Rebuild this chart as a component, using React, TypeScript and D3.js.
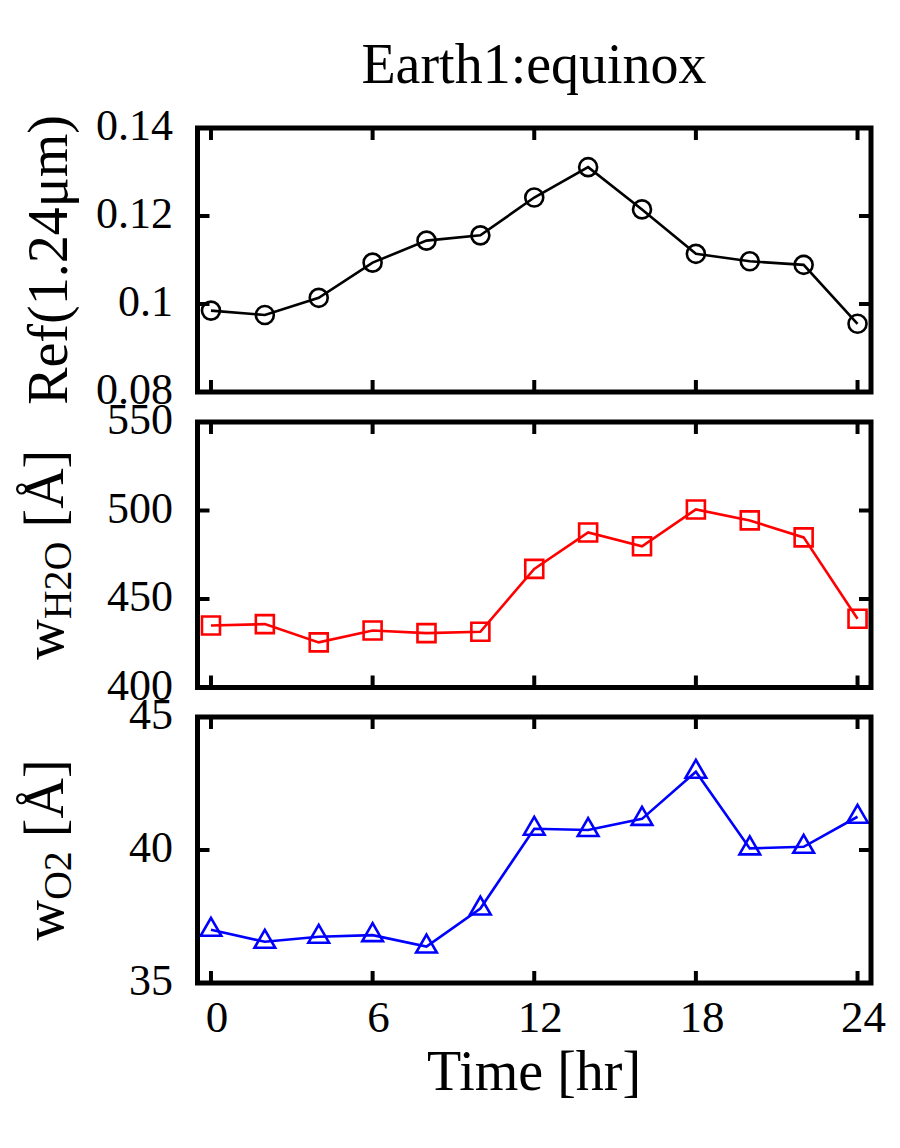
import React from 'react';
import * as d3 from 'd3';

// values
const hours = [0, 2, 4, 6, 8, 10, 12, 14, 16, 18, 20, 22, 24];
const refValues = [0.0985, 0.0975, 0.1014, 0.1094, 0.1144, 0.1156, 0.1242, 0.1311, 0.1215, 0.1114, 0.1097, 0.1089, 0.0955];
const h2oValues = [435, 435.8, 425.5, 432.2, 430.7, 431.5, 467, 487.6, 479.8, 500.6, 494.4, 484.8, 438.8];
const o2Values = [37.0, 36.55, 36.74, 36.8, 36.37, 37.8, 40.8, 40.75, 41.17, 42.94, 40.06, 40.12, 41.25];

const xTicks = [0, 6, 12, 18, 24];
const refTicks = [0.08, 0.1, 0.12, 0.14];
const h2oTicks = [400, 450, 500, 550];
const o2Ticks = [35, 40, 45];

const FONT = '"Liberation Serif", "Times New Roman", serif';
const left = 197.5;
const right = 871;

const x = d3.scaleLinear().domain([-0.5, 24.5]).range([left, right]);

type PanelProps = {
  values: number[];
  domain: [number, number];
  top: number;
  bottom: number;
  ticks: number[];
  fmt: (v: number) => string;
  color: string;
  marker: 'circle' | 'square' | 'triangle';
  showX: boolean;
};

const Panel = ({ values, domain, top, bottom, ticks, fmt, color, marker, showX }: PanelProps) => {
  const y = d3.scaleLinear().domain(domain).range([bottom, top]);
  const line = d3.line<number>()
    .x((_, i) => x(hours[i]))
    .y(d => y(d));

  let sym: string | null = null;
  if (marker === 'square') sym = d3.symbol(d3.symbolSquare, 324)();
  if (marker === 'triangle') sym = d3.symbol(d3.symbolTriangle, 185)();

  return (
    <g>
      <path d={line(values) || ''} fill="none" stroke={color} strokeWidth={2.6} />
      {values.map((v, i) =>
        marker === 'circle' ? (
          <circle key={i} cx={x(hours[i])} cy={y(v)} r={9} fill="none" stroke={color} strokeWidth={2.6} />
        ) : (
          <path key={i} d={sym || ''} transform={`translate(${x(hours[i])},${y(v)})`}
            fill="none" stroke={color} strokeWidth={2.6} />
        )
      )}
      {/* ticks on all four sides, pointing in */}
      {xTicks.map(t => (
        <g key={'x' + t}>
          <line x1={x(t)} x2={x(t)} y1={bottom} y2={bottom - 12} stroke="#000" strokeWidth={4} />
          <line x1={x(t)} x2={x(t)} y1={top} y2={top + 12} stroke="#000" strokeWidth={4} />
          {showX && (
            <text x={x(t) + 6} y={bottom + 49} textAnchor="middle" fontSize={45} fontFamily={FONT}>{t}</text>
          )}
        </g>
      ))}
      {ticks.map(t => (
        <g key={'y' + t}>
          <line x1={left} x2={left + 12} y1={y(t)} y2={y(t)} stroke="#000" strokeWidth={4} />
          <line x1={right} x2={right - 12} y1={y(t)} y2={y(t)} stroke="#000" strokeWidth={4} />
          <text x={173} y={y(t) + 12} textAnchor="end" fontSize={44} fontFamily={FONT}>{fmt(t)}</text>
        </g>
      ))}
      <rect x={left} y={top} width={right - left} height={bottom - top} fill="none" stroke="#000" strokeWidth={5} />
    </g>
  );
};

const App = () => {
  const p1: [number, number] = [128, 392];
  const p2: [number, number] = [422, 687.5];
  const p3: [number, number] = [717, 983];
  const mid = (p: [number, number]) => (p[0] + p[1]) / 2;

  return (
    <svg width={900} height={1148} style={{ position: 'absolute', left: 0, top: 0, background: '#fff' }}>
      <text x={534} y={83} textAnchor="middle" fontSize={56} fontFamily={FONT}>Earth1:equinox</text>

      <Panel values={refValues} domain={[0.08, 0.14]} top={p1[0]} bottom={p1[1]} ticks={refTicks}
        fmt={v => String(+v.toFixed(2))} color="#000" marker="circle" showX={false} />
      <Panel values={h2oValues} domain={[400, 550]} top={p2[0]} bottom={p2[1]} ticks={h2oTicks}
        fmt={v => String(v)} color="#ff0000" marker="square" showX={false} />
      <Panel values={o2Values} domain={[35, 45]} top={p3[0]} bottom={p3[1]} ticks={o2Ticks}
        fmt={v => String(v)} color="#0000ff" marker="triangle" showX={true} />

      <text transform={`translate(67,${mid(p1)}) rotate(-90)`} textAnchor="middle" fontSize={56} fontFamily={FONT}>
        Ref(1.24μm)
      </text>
      <text transform={`translate(63,${mid(p2)}) rotate(-90)`} textAnchor="middle" fontSize={56} fontFamily={FONT}>
        w<tspan fontSize={40} dy={8}>H2O</tspan><tspan dy={-8}> [Å]</tspan>
      </text>
      <text transform={`translate(63,${mid(p3)}) rotate(-90)`} textAnchor="middle" fontSize={56} fontFamily={FONT}>
        w<tspan fontSize={40} dy={8}>O2</tspan><tspan dy={-8}> [Å]</tspan>
      </text>

      <text x={534} y={1090} textAnchor="middle" fontSize={56} fontFamily={FONT}>Time [hr]</text>
    </svg>
  );
};

export default App;
